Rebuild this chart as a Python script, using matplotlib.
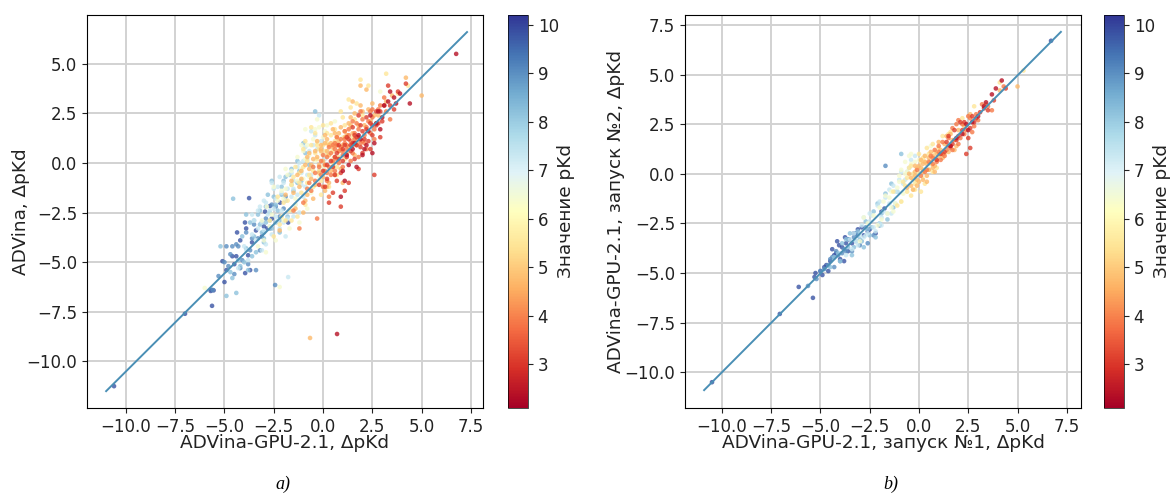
import numpy as np
import matplotlib
matplotlib.use('Agg')
import matplotlib.pyplot as plt

# pKd level of each group of points
pkd_levels = [2.4, 3.1, 3.9, 4.7, 5.5, 6.4, 7.3, 8.2, 9.0, 9.8]

# Panel a: ADVina-GPU-2.1 (x) against ADVina (y), one x and y list per pKd level
a_x_24 = [6.75, 4.4, 3.9, 3.6, 3.4, 3.0, 2.9, 2.6, 2.5, 2.2,
          2.0, 1.8, 1.7, 1.5, 1.3, 1.2, 1.0, 0.71, 3.1, 2.3,
          2.7, 2.4, 1.9, 1.6, 1.1, 3.3, 2.8, 3.7, 0.9, 2.1]
a_y_24 = [5.5, 3.0, 3.5, 3.3, 3.6, 2.3, 1.7, 1.0, 0.5, 0.9,
          0.4, 1.4, -0.2, 0.7, -0.1, 0.4, -0.4, -8.62, 2.9, 1.6,
          2.0, 2.4, 1.2, 1.0, -0.9, 3.1, 2.6, 3.0, -1.7, 0.7]

a_x_31 = [4.2, 3.8, 3.3, 3.1, 2.9, 2.7, 2.5, 2.4, 2.2, 2.1,
          2.0, 1.9, 1.7, 1.6, 1.5, 1.4, 1.3, 1.2, 1.1, 1.0,
          0.9, 0.8, 0.7, 0.6, 0.5, 0.9, 1.8, 2.6, 3.6, 0.2,
          0.3, 1.7, 2.2, 1.5, 2.8, 0.4, 1.3, 0.1, 2.0, 2.4,
          2.3, 1.9, 1.6, 1.2, 0.8, 0.5, 2.7, 3.0, 1.0, 0.2,
          1.4, 1.8, 2.5, 0.6, -0.2, 3.4, 1.1, 0.0, 2.9, 0.7]
a_y_31 = [4.0, 3.6, 3.9, 2.9, 1.3, 2.6, 1.4, 2.0, 1.7, 1.2,
          1.6, 0.8, 1.3, 0.2, 1.0, 0.9, -1.0, 0.3, -1.4, 0.7,
          -0.5, 0.2, -0.9, 0.3, -1.5, -2.2, -0.3, -0.6, 2.7, -0.8,
          -2.0, 0.9, 2.3, 1.8, 2.0, 0.1, 1.2, -1.2, 0.5, 0.7,
          1.1, 1.9, 1.4, 1.3, 0.9, -0.2, 1.9, 2.1, 0.1, -0.1,
          0.6, 2.4, 1.9, -0.6, -1.1, 2.9, 0.9, -0.4, 2.6, 0.5]

a_x_39 = [3.4, 3.1, 2.9, 2.7, 2.6, 2.5, 2.4, 2.3, 2.2, 2.1,
          2.0, 1.9, 1.8, 1.7, 1.6, 1.5, 1.4, 1.3, 1.2, 1.1,
          1.0, 0.9, 0.8, 0.7, 0.6, 0.5, 0.4, 0.3, 0.2, 0.1,
          0.0, -0.1, -0.2, -0.4, -0.6, -0.8, -1.0, -0.4, 0.2, 0.6,
          1.0, 1.4, 1.8, 2.2, 2.6, 1.6, 1.2, 0.8, 0.4, 0.0,
          -1.5, -1.2, 0.3, 1.9, 2.4, 1.1, 0.7, 1.5, 2.0, -0.3,
          1.5, 1.1, 0.9, 0.5, 0.3, 1.7, 2.1, 2.5, 1.3, 0.7,
          -0.1, -0.5, 0.1, 0.6, 1.0, 1.8, 2.8, 3.2, 0.2, -0.7]
a_y_39 = [2.2, 3.3, 2.9, 2.0, 1.2, 2.3, 1.5, 2.1, 1.8, 1.4,
          2.2, 1.0, 1.7, 0.9, 1.5, 0.5, 1.1, 1.4, 0.9, 1.0,
          0.4, 0.8, 0.6, 0.2, 0.7, 0.1, 0.5, -0.2, 0.3, -0.4,
          0.4, -0.6, -0.2, -0.9, -1.4, -1.3, -2.0, -0.5, -0.9, -0.4,
          -0.2, 0.1, 0.3, 0.7, 1.7, 1.2, 0.7, 0.0, -0.6, -1.2,
          -2.4, -3.3, -1.7, 2.6, 2.6, 1.6, 1.3, 2.1, 1.1, -2.8,
          0.9, 1.2, 1.2, 0.9, 0.8, 2.0, 1.0, 2.7, 1.7, 0.9,
          0.1, -0.2, -0.1, 1.0, 0.6, 1.3, 2.7, 2.6, -0.5, -1.0]

a_x_47 = [5.0, 4.2, 3.2, 2.8, 2.5, 2.3, 2.0, 1.8, 1.6, 1.5,
          1.3, 1.1, 0.9, 0.7, 0.5, 0.3, 0.1, -0.1, -0.3, -0.5,
          -0.7, -0.9, -1.1, -1.3, -1.5, -0.66, -1.9, -2.2, 1.9, 1.4,
          1.0, 0.6, 0.2, -0.2, -0.6, 0.8, 1.2, 0.4, 0.0, -0.4,
          -0.8, 1.6, 1.3, 0.9, 0.5, 0.1, -0.3, -0.7, -1.1, 0.2,
          0.6, 1.0, -0.5, -0.1, 0.3, 0.7, 2.2, 1.7, -1.4, -1.0,
          0.4, 0.8, 1.1, -0.2, -0.4, -0.8, 0.0, 0.6, 1.4, 1.9,
          2.4, 3.5, -1.2, -1.6, 0.2, -0.6, 1.5, 0.9, 0.3, -0.1,
          -0.9, 1.2, 2.1, 2.6, 0.5, 0.1]
a_y_47 = [3.4, 4.3, 3.1, 2.4, 3.0, 2.7, 2.6, 1.9, 2.5, 3.1,
          2.0, 1.6, 1.8, 1.3, 1.7, 0.9, 1.4, 0.6, 1.1, 0.2,
          -0.3, -0.1, -0.8, -0.6, -1.5, -8.82, -1.6, -3.4, 3.9, 2.3,
          0.9, 0.3, 0.6, -0.1, -0.8, 1.1, 1.4, -0.4, -0.7, -1.1,
          -1.6, 0.4, 0.8, -0.3, 0.8, -1.4, 0.3, 0.5, -0.4, 1.2,
          1.5, -1.0, -1.8, 0.7, -1.0, 0.9, 3.7, 1.1, -2.3, -2.5,
          1.0, 1.5, 1.3, -0.5, 0.6, 0.3, 0.1, -0.6, 1.9, 2.9,
          2.1, 3.4, -1.2, -0.9, -1.2, -0.1, 1.5, 0.7, 0.4, 0.9,
          -1.9, 0.5, 1.9, 2.4, -0.2, 1.0]

a_x_55 = [4.3, 3.8, 3.2, 2.3, 1.9, 1.6, 1.4, 1.2, 1.0, 0.8,
          0.6, 0.4, 0.2, 0.0, -0.2, -0.4, -0.6, -0.8, -1.0, -1.2,
          -1.4, -1.6, -1.8, -2.0, -2.2, -0.5, -0.9, -0.1, 0.3, 0.7,
          1.1, 1.5, -1.3, -1.7, -2.1, -2.5, 0.5, 0.1, -0.3, -0.7,
          -1.1, 0.9, 1.3, 2.0, -0.6, -0.2, 0.2, 0.6, -1.5, -0.9,
          -0.3, 0.1, 0.5, 0.8, -0.5, -0.8, -1.2, -1.6, -1.9, -2.3,
          -2.7, 0.0, 0.4, -0.1, -0.4, 1.1, 1.7, -1.0, 0.7, 0.2]
a_y_55 = [3.9, 3.5, 4.5, 3.9, 4.2, 2.2, 2.8, 1.3, 2.3, 0.6,
          1.1, 2.0, 1.0, 1.9, 0.7, 1.5, 0.9, 0.1, 0.7, -0.5,
          -0.2, -1.1, -1.9, -2.0, -3.1, -1.2, -2.1, -1.6, -1.2, -0.6,
          0.2, 1.3, -2.7, -2.4, -2.7, -3.7, 0.0, -0.1, 0.2, -0.6,
          -1.5, 2.6, 3.2, 2.4, 1.8, -0.4, 0.4, 1.7, -0.7, 1.1,
          0.9, 0.6, 0.6, 0.3, -0.4, -1.0, -1.0, -2.9, -2.9, -1.7,
          -2.9, 0.9, 1.4, -0.9, 0.5, 1.9, 3.0, -0.2, -0.2, 1.5]

a_x_64 = [-6.0, -2.2, -1.9, -1.6, -1.3, -1.1, -0.9, -0.7, -0.5, -0.3,
          -0.1, 0.1, 0.3, 0.5, 0.7, -2.6, -2.3, -2.0, -1.7, -1.4,
          -1.2, -1.0, -0.8, -0.6, -0.4, -0.2, 0.0, 0.4, -3.0, -2.7,
          -2.4, -1.8, -1.5, -0.9, -0.5, 1.0, 1.4, 2.9, -3.3, -2.85,
          -1.9, -1.6, -1.3, -1.1, -0.7, -0.3, 0.0, 0.2, -2.1, -2.5,
          -0.8, -1.4, -2.0, -0.4, 0.6, -2.9, -3.1, -1.0, -0.2, 0.9]
a_y_64 = [-6.3, -6.25, -1.3, -0.4, 0.3, 0.9, 1.7, 0.4, 1.2, 2.2,
          0.5, 1.6, 0.9, 0.2, 0.9, -2.6, -1.9, -2.9, -3.3, -1.8,
          -3.0, -0.8, -2.3, -1.5, 0.1, -0.7, -0.2, 0.6, -3.9, -3.2,
          -3.9, -0.6, -2.4, 0.2, -1.2, 1.3, 1.8, 3.6, -4.2, -2.2,
          -0.3, -1.1, -0.9, -0.3, -0.7, 1.0, 1.3, 1.9, -1.4, -1.2,
          0.9, -2.1, -1.8, 1.7, 2.1, -4.5, -2.9, 0.6, 1.8, 0.6]

a_x_73 = [-4.0, -3.6, -3.3, -3.1, -2.9, -2.7, -2.5, -2.3, -2.1, -1.9,
          -1.7, -1.5, -1.3, -1.1, -0.9, -0.7, -0.5, -0.3, -0.1, 0.1,
          -3.8, -3.4, -3.0, -2.6, -2.2, -1.8, -1.4, -1.0, -0.6, -0.2,
          -1.77, -3.5, -3.2, -2.8, -2.4, -2.0, -1.6, -1.2, -0.8, -0.4,
          -4.3, -3.9, -2.5, -2.1, -1.5, 0.2, -0.8, -1.9, -1.2, -2.9,
          -3.0, -2.7, -2.2, -1.8, -1.3, -1.6, -2.4, -0.9, -0.5, -3.3,
          -2.0, -1.1, -0.6, -3.6, -2.6, -1.5, -2.3, -1.0, -3.1, -0.2]
a_y_73 = [-4.2, -3.6, -2.4, -3.0, -2.0, -3.2, -2.3, -2.9, -1.5, -1.9,
          -2.4, -0.9, -1.6, -0.5, -1.2, 0.6, -0.2, 0.7, 1.1, 0.2,
          -4.9, -3.9, -3.4, -3.6, -3.3, -2.8, -2.1, -1.7, -0.6, -0.4,
          -5.75, -2.9, -2.2, -2.6, -1.8, -1.0, -0.5, 0.0, 0.2, 1.4,
          -5.3, -4.4, -1.3, -2.4, -1.3, 0.5, -0.6, -3.7, -2.5, -4.1,
          -1.9, -2.4, -0.7, -1.3, -0.2, -1.7, -2.7, 0.8, 0.9, -3.3,
          -3.0, -1.1, 1.6, -2.6, -1.0, -2.7, -1.2, 0.1, -4.4, 2.4]

a_x_82 = [-4.56, -4.9, -4.4, -4.2, -3.9, -3.7, -3.5, -3.3, -3.1, -2.9,
          -2.7, -2.5, -2.3, -2.1, -1.9, -1.7, -1.5, -1.3, -1.1, -0.9,
          -0.7, -4.7, -4.3, -4.0, -3.6, -3.2, -2.8, -2.4, -2.0, -1.6,
          -1.2, -3.8, -3.4, -3.0, -2.6, -2.2, -1.8, -0.4, -5.2, -4.6,
          -2.7, -2.4, -2.9, -2.1, -1.6, -3.2, -3.5, -1.9, -1.3, -2.6,
          -3.9, -4.1, -1.0, -2.2, -3.0]
a_y_82 = [-1.8, -6.7, -6.55, -5.2, -4.3, -3.0, -3.7, -2.6, -3.5, -2.2,
          -2.9, -1.7, -2.4, -1.2, -1.9, -0.6, -1.4, 0.1, -0.9, 0.5,
          -0.1, -5.5, -4.9, -5.0, -4.7, -3.1, -1.6, -3.0, -0.9, -1.1,
          -0.4, -5.4, -4.5, -4.0, -0.9, -3.5, -2.7, 2.6, -4.2, -5.8,
          -2.5, -2.1, -3.0, -1.6, -0.3, -2.4, -2.9, -0.7, -1.0, -3.3,
          -2.6, -3.7, 1.0, -2.9, -3.8]

a_x_90 = [-5.6, -5.3, -5.0, -4.8, -4.6, -4.5, -4.3, -4.1, -3.9, -3.7,
          -3.5, -3.3, -3.1, -2.9, -2.7, -2.43, -2.2, -1.9, -3.4, -3.8,
          -4.2, -2.6, -2.0, -4.9, -4.4, -4.7, -3.6, -3.0, -2.4, -3.2]
a_y_90 = [-6.4, -5.7, -5.0, -5.2, -4.2, -5.6, -4.2, -4.9, -3.5, -4.4,
          -3.1, -3.8, -3.0, -2.8, -3.3, -6.15, -2.7, -1.7, -5.4, -5.1,
          -5.3, -2.1, -2.3, -4.2, -4.1, -4.6, -3.8, -3.5, -2.2, -4.4]

a_x_98 = [-10.6, -7.0, -5.65, -5.7, -5.55, -5.63, -5.1, -5.0, -4.6, -4.4,
          -4.36, -4.2, -3.96, -3.9, -3.8, -3.75, -3.7, -3.6, -3.1, -2.94,
          -2.84, -2.69, -2.18, -1.77, -3.95, -4.5, -4.9, -3.4, -3.0, -2.6]
a_y_98 = [-11.25, -7.6, -6.4, -6.45, -6.42, -7.2, -4.95, -6.0, -4.7, -4.7,
          -3.5, -3.9, -3.0, -3.3, -4.65, -1.77, -5.4, -4.0, -3.7, -2.45,
          -3.3, -2.17, -2.0, -3.0, -5.55, -5.1, -5.4, -3.4, -3.2, -2.8]

# Panel b: run 1 (x) against run 2 (y)
b_x_24 = [4.2, 3.9, 3.7, 3.4, 3.3, 2.7, 2.4, 2.2, 1.9, 1.6, 3.0, 2.5]
b_y_24 = [4.7, 4.3, 4.0, 3.6, 3.4, 2.6, 2.5, 2.0, 1.8, 1.4, 2.9, 2.2]

b_x_31 = [4.4, 3.8, 3.5, 3.1, 2.9, 2.7, 2.6, 2.5, 2.4, 2.2,
          2.1, 2.0, 1.8, 1.7, 1.5, 1.3, 1.1, 2.6, 0.9, 1.4,
          1.9, 2.3, 1.6, 3.3, 2.8]
b_y_31 = [4.3, 3.7, 3.2, 3.1, 2.8, 2.9, 2.3, 1.8, 1.0, 2.2,
          2.6, 1.9, 2.2, 1.5, 1.9, 1.1, 1.0, 1.3, 0.7, 1.6,
          1.7, 2.6, 1.4, 3.3, 2.6]

b_x_39 = [4.3, 3.7, 3.2, 2.8, 2.5, 2.3, 2.1, 1.9, 1.7, 1.6,
          1.4, 1.2, 1.0, 0.9, 0.7, 0.5, 2.0, 1.5, 1.1, 2.9,
          0.3, 0.1, 1.8, 2.4, 0.8, 1.3, 2.7, 0.6, 3.0, 1.0,
          1.7, 2.2, 1.2, 0.4, -0.1, 1.5, 2.6, 0.7, 3.5, 2.0]
b_y_39 = [4.4, 3.2, 3.5, 2.4, 2.9, 2.0, 1.8, 2.5, 2.3, 1.3,
          1.2, 1.6, 1.4, 0.6, 0.5, 0.6, 2.7, 1.8, 0.7, 3.0,
          0.1, -0.1, 1.7, 2.2, 1.2, 0.9, 2.1, 0.9, 2.7, 1.1,
          1.2, 2.5, 1.0, 0.2, 0.2, 1.4, 2.8, 0.8, 3.4, 1.5]

b_x_47 = [5.0, 4.1, 3.4, 2.6, 2.3, 1.9, 1.6, 1.4, 1.2, 1.0,
          0.8, 0.6, 0.4, 0.2, 0.0, -0.2, -0.4, 1.7, 1.1, 0.5,
          0.3, 0.1, -0.1, -0.3, 0.7, 0.9, 1.3, 2.0, -0.6, 0.0,
          0.5, 0.2, 0.8, -0.2, 1.5, 0.4, 0.6, 0.3, 0.1, -0.4,
          0.9, 1.2, 1.8, -0.1, 0.7, 0.2, -0.5, 0.4, 1.0, -0.2]
b_y_47 = [4.4, 4.2, 3.5, 3.0, 2.4, 1.4, 2.0, 1.9, 0.8, 1.6,
          0.4, 1.1, -0.1, 0.5, -0.4, 0.1, -0.2, 1.7, 1.2, 0.8,
          0.9, 0.3, -0.6, -0.8, 0.9, 1.0, 1.5, 2.2, -0.7, 0.4,
          0.2, -0.3, 0.1, -0.1, 1.1, 0.5, 0.6, 0.6, 0.7, -0.6,
          0.7, 1.0, 1.2, -0.3, 0.3, 0.1, 0.0, -0.4, 0.9, 0.4]

b_x_55 = [5.3, 4.1, 2.8, 1.6, 1.2, 1.0, 0.7, 0.5, 0.3, 0.1,
          -0.1, -0.3, -0.5, -0.7, 0.9, 0.4, 0.0, -0.4, 0.6, -0.2,
          -0.6, -0.9, 1.3, 0.2, 0.8, -1.1, 0.3, -0.4, 0.1, -0.8,
          -0.2, 0.2, 0.5, -0.3, 0.0, -1.3, -0.6, 1.5, 2.2, 0.7]
b_y_55 = [5.2, 4.6, 3.4, 2.1, 1.9, 1.3, 0.1, 1.0, -0.5, 0.6,
          0.3, -0.3, 0.3, -0.6, 0.3, 1.3, 0.0, 0.4, 0.5, -0.8,
          -0.9, -1.4, 1.0, 0.2, 1.1, -1.6, 0.6, -1.1, -0.9, -0.4,
          -0.5, 0.8, 0.2, 0.0, 1.0, -0.9, -0.2, 2.0, 2.8, 1.5]

b_x_64 = [0.6, 0.3, 0.0, -0.2, -0.4, -0.6, -0.8, -1.0, -1.2, -1.4,
          -1.6, -1.8, -2.0, -0.3, -0.7, -1.1, -1.5, -1.9, -0.5, -0.1,
          -0.9, -2.3, -2.6, -1.3, 0.2, -0.7, -1.0, -1.4, -0.4, -2.1,
          -2.8, -1.7, -0.2, -0.9, -3.0]
b_y_64 = [1.4, 0.9, 0.7, -0.2, 0.5, 0.1, -1.0, -0.4, -1.5, -0.9,
          -2.0, -1.4, -1.7, -0.8, 0.0, -0.7, -1.2, -2.3, 0.9, -0.4,
          -1.4, -2.1, -2.5, -1.9, -0.2, 0.6, -0.1, -1.7, 1.0, -2.6,
          -2.2, -1.1, 0.6, 0.2, -3.4]

b_x_73 = [-0.4, -0.6, -0.9, -1.1, -1.3, -1.5, -1.7, -1.9, -2.1, -2.3,
          -2.5, -2.7, -2.9, -3.1, -3.3, -3.5, -1.2, -1.6, -2.0, -2.4,
          -2.8, -3.2, -0.8, -1.8, -2.2, -2.6, -3.0, -1.4, -0.2, -3.7,
          -0.7, -1.0, -1.5, -2.0, -2.5, -3.4, -0.5, -1.9, -2.8, -1.2]
b_y_73 = [0.7, 0.1, 0.1, -0.9, -0.6, -1.5, -1.2, -2.2, -1.6, -2.7,
          -2.0, -3.1, -2.6, -3.6, -3.0, -3.3, -1.5, -2.0, -2.5, -2.1,
          -3.2, -3.4, -0.5, -1.9, -2.9, -3.0, -3.1, -2.0, 0.9, -4.1,
          -0.3, -0.3, -0.8, -1.4, -2.4, -3.8, 0.3, -2.6, -2.2, -0.9]

b_x_82 = [-0.9, -1.4, -1.7, -2.0, -2.3, -2.5, -2.7, -2.9, -3.1, -3.3,
          -3.5, -3.7, -3.9, -4.1, -4.3, -2.2, -2.8, -3.4, -1.1, -1.6,
          -1.9, -4.5, -3.2, -2.6, -3.0, -2.4, -1.3, -3.6, -4.0, -2.1]
b_y_82 = [1.0, -0.5, -1.0, -2.5, -1.9, -3.1, -2.4, -3.4, -2.9, -3.7,
          -3.0, -3.3, -3.5, -4.0, -4.2, -3.2, -3.7, -4.1, -0.9, -2.3,
          -2.0, -4.7, -3.4, -2.8, -3.3, -2.7, -1.7, -3.7, -4.4, -1.5]

b_x_90 = [-1.7, -2.0, -2.7, -3.0, -3.2, -3.4, -3.6, -3.8, -4.0, -4.2,
          -4.4, -4.6, -4.8, -5.0, -5.2, -5.63, -3.3, -2.6, -3.9, -4.3,
          -3.1, -3.7, -4.1, -2.3, -4.5]
b_y_90 = [0.4, -2.6, -2.7, -3.6, -3.0, -3.9, -3.3, -3.8, -4.4, -3.9,
          -4.2, -4.6, -4.8, -4.9, -5.3, -5.65, -3.2, -3.5, -4.0, -4.7,
          -3.1, -3.9, -4.1, -3.1, -4.3]

b_x_98 = [6.7, -10.5, -7.06, -6.1, -5.38, -5.3, -5.25, -5.0, -4.9, -4.7,
          -4.5, -4.4, -4.3, -4.2, -4.0, -3.9, -3.7, -3.55, -3.4, -3.3,
          -3.1, -2.9, -2.8, -2.6, -2.5, -1.9, -4.6, -3.8, -3.6, -1.75,
          -4.15, -4.05, -3.75, -3.2, -2.2, -4.8]
b_y_98 = [6.7, -10.5, -7.06, -5.7, -6.25, -5.2, -5.0, -4.9, -5.1, -4.6,
          -4.4, -3.8, -4.1, -4.0, -4.3, -3.7, -3.5, -3.3, -3.5, -3.0,
          -2.8, -2.7, -3.1, -2.9, -2.8, -1.9, -4.9, -4.4, -3.9, -1.75,
          -3.4, -3.6, -3.2, -3.0, -3.0, -4.7]

a_groups = [(a_x_24, a_y_24), (a_x_31, a_y_31), (a_x_39, a_y_39), (a_x_47, a_y_47), (a_x_55, a_y_55),
            (a_x_64, a_y_64), (a_x_73, a_y_73), (a_x_82, a_y_82), (a_x_90, a_y_90), (a_x_98, a_y_98)]
b_groups = [(b_x_24, b_y_24), (b_x_31, b_y_31), (b_x_39, b_y_39), (b_x_47, b_y_47), (b_x_55, b_y_55),
            (b_x_64, b_y_64), (b_x_73, b_y_73), (b_x_82, b_y_82), (b_x_90, b_y_90), (b_x_98, b_y_98)]

# fitted lines, end points
a_line_x = [-11.0, 7.3]
a_line_y = [-11.5, 6.6]
b_line_x = [-10.9, 7.2]
b_line_y = [-10.9, 7.15]

pkd_ticks = [3, 4, 5, 6, 7, 8, 9, 10]
x_ticks = [-10.0, -7.5, -5.0, -2.5, 0.0, 2.5, 5.0, 7.5]
W, H = 1171, 493

plt.rcParams['font.family'] = 'DejaVu Sans'


def box(left, top, right, bottom):
    # axes rectangle from pixel positions
    return [left / W, 1 - bottom / H, (right - left) / W, (bottom - top) / H]


def panel(ax_box, cax_box, groups, line_x, line_y, xlabel, ylabel, xlim, ylim, y_ticks, ylabel_x):
    ax = fig.add_axes(box(*ax_box))
    cax = fig.add_axes(box(*cax_box))
    ax.grid(True, color='#d2d2d2', linewidth=1.4)
    ax.set_axisbelow(True)
    for (xs, ys), level in zip(groups[::-1], pkd_levels[::-1]):
        ax.scatter(xs, ys, c=[level] * len(xs), cmap='RdYlBu', vmin=2.1, vmax=10.2,
                   s=11, alpha=0.8, linewidths=0, zorder=3)
    ax.plot(line_x, line_y, color='#4a8fb5', linewidth=1.4, zorder=4)
    ax.set_xlim(*xlim)
    ax.set_ylim(*ylim)
    ax.set_xticks(x_ticks)
    ax.set_yticks(y_ticks)
    ax.tick_params(labelsize=12, colors='#222222')
    ax.set_xlabel(xlabel, fontsize=13.3, color='#222222')
    ax.set_ylabel(ylabel, fontsize=13.3, color='#222222')
    ax.xaxis.set_label_coords(0.5, -0.066)
    ax.yaxis.set_label_coords(ylabel_x, 0.5)
    # colour bar must be solid, so it gets its own mappable
    sm = plt.cm.ScalarMappable(norm=plt.Normalize(2.1, 10.2), cmap='RdYlBu')
    cb = fig.colorbar(sm, cax=cax)
    cb.set_ticks(pkd_ticks)
    cb.ax.tick_params(labelsize=12, colors='#222222')
    cb.set_label('Значение pKd', fontsize=13.3, color='#222222')
    cb.ax.yaxis.set_label_coords(2.45, 0.5)
    cb.outline.set_linewidth(0.5)
    return ax


fig = plt.figure(figsize=(W / 100, H / 100), dpi=100)

panel((87, 15, 483, 408), (508, 15, 528, 408), a_groups, a_line_x, a_line_y,
      'ADVina-GPU-2.1, ΔpKd', 'ADVina, ΔpKd', (-11.97, 8.11), (-12.35, 7.46),
      [-10.0, -7.5, -5.0, -2.5, 0.0, 2.5, 5.0], -0.144)
panel((685, 15, 1081, 408), (1104, 15, 1124, 408), b_groups, b_line_x, b_line_y,
      'ADVina-GPU-2.1, запуск №1, ΔpKd', 'ADVina-GPU-2.1, запуск №2, ΔpKd',
      (-11.87, 8.22), (-11.8, 8.0), [-10.0, -7.5, -5.0, -2.5, 0.0, 2.5, 5.0, 7.5], -0.152)

fig.text(283 / W, 1 - 484 / H, 'a)', family='Liberation Serif', style='italic', fontsize=13,
         ha='center', va='center')
fig.text(891 / W, 1 - 484 / H, 'b)', family='Liberation Serif', style='italic', fontsize=13,
         ha='center', va='center')

fig.savefig('out.png', dpi=100)
